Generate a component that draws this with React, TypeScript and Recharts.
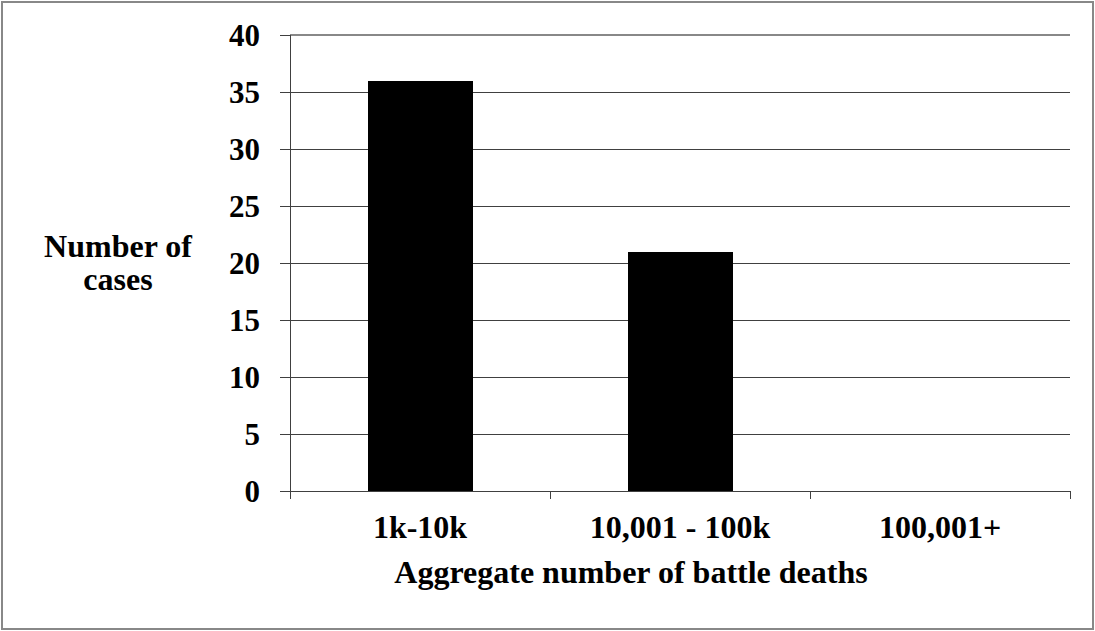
import React from 'react';
import {
  BarChart,
  Bar,
  XAxis,
  YAxis,
  CartesianGrid,
  ReferenceLine,
} from 'recharts';

const categories = ['1k-10k', '10,001 - 100k', '100,001+'];
const caseCounts = [36, 21, 0];
const yTicks = [0, 5, 10, 15, 20, 25, 30, 35, 40];

const data = categories.map((name, i) => ({ name, cases: caseCounts[i] }));

const FONT = "'Liberation Serif', 'DejaVu Serif', 'Noto Serif', 'Times New Roman', Times, serif";
const AXIS = '#404040';
const FRAME = '#888888';

// category label plus the tick marks on the category boundaries
function CategoryTick({ x, y, payload }: any) {
  const half = payload?.offset ?? 0;
  const axisY = y - 24;
  const last = payload?.index === categories.length - 1;
  return (
    <g>
      <line x1={x - half} x2={x - half} y1={axisY} y2={axisY + 8} stroke={AXIS} />
      {last && <line x1={x + half} x2={x + half} y1={axisY} y2={axisY + 8} stroke={AXIS} />}
      <text
        x={x}
        y={y}
        dy="0.71em"
        textAnchor="middle"
        fill="#000"
        style={{ fontFamily: FONT, fontWeight: 700, fontSize: 32 }}
      >
        {payload.value}
      </text>
    </g>
  );
}

function XTitle({ viewBox }: any) {
  if (!viewBox) return null;
  return (
    <text
      x={viewBox.x + viewBox.width / 2 - 49}
      y={viewBox.y + 92}
      textAnchor="middle"
      style={{ fontFamily: FONT, fontWeight: 700, fontSize: 32 }}
      fill="#000"
    >
      Aggregate number of battle deaths
    </text>
  );
}

function YTitle({ viewBox }: any) {
  if (!viewBox) return null;
  const cx = viewBox.x - 82;
  const mid = viewBox.y + viewBox.height / 2;
  return (
    <text textAnchor="middle" style={{ fontFamily: FONT, fontWeight: 700, fontSize: 32 }} fill="#000">
      <tspan x={cx} y={mid - 6}>Number of</tspan>
      <tspan x={cx} y={mid + 27}>cases</tspan>
    </text>
  );
}

export default function App() {
  return (
    <>
      <div
        style={{
          position: 'absolute',
          left: 1,
          top: 1,
          width: 1093,
          height: 629,
          border: `2px solid ${FRAME}`,
          boxSizing: 'border-box',
        }}
      />
      <div style={{ position: 'absolute', left: 0, top: 0, fontFamily: FONT, shapeRendering: 'crispEdges' } as any}>
        <BarChart
          width={1095}
          height={631}
          data={data}
          margin={{ top: 35, right: 25, left: 200, bottom: 40 }}
        >
          <CartesianGrid vertical={false} stroke={AXIS} strokeOpacity={1} yAxisId="y" xAxisId="cat" />
          <XAxis
            xAxisId="cat"
            dataKey="name"
            interval={0}
            tickLine={false}
            tickSize={0}
            tickMargin={24}
            height={100}
            axisLine={{ stroke: AXIS }}
            tick={<CategoryTick />}
            label={{ content: XTitle } as any}
          />
          <XAxis xAxisId="edges" type="number" domain={[0, 3]} allowDataOverflow hide />
          <YAxis
            yAxisId="y"
            domain={[0, 40]}
            ticks={yTicks}
            interval={0}
            width={90}
            tickSize={10}
            tickMargin={20}
            axisLine={{ stroke: AXIS }}
            tickLine={{ stroke: AXIS }}
            tick={{ fill: '#000', fontSize: 31, fontWeight: 700, fontFamily: FONT }}
            label={{ content: YTitle } as any}
          />
          <ReferenceLine yAxisId="y" xAxisId="cat" y={40} stroke={FRAME} strokeWidth={2} />
          <ReferenceLine yAxisId="y" xAxisId="edges" x={3} stroke={FRAME} strokeWidth={2} />
          <Bar
            xAxisId="cat"
            yAxisId="y"
            dataKey="cases"
            fill="#000"
            barSize={105}
            isAnimationActive={false}
          />
        </BarChart>
      </div>
    </>
  );
}
